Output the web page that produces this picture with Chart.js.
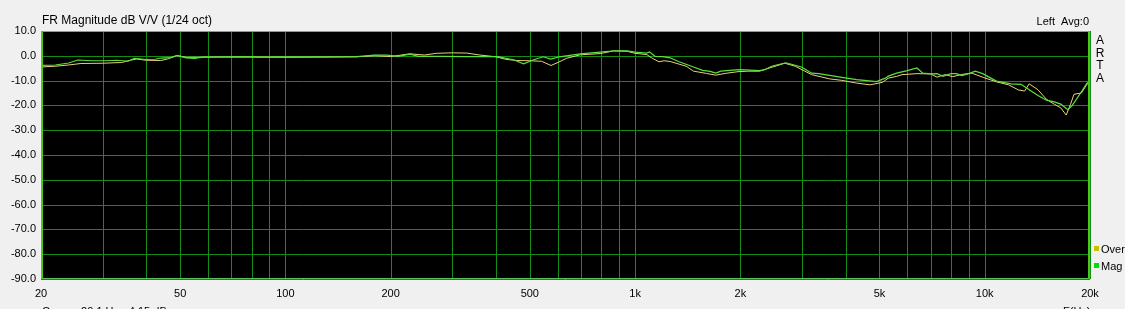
<!DOCTYPE html>
<html><head><meta charset="utf-8">
<script src="https://cdn.jsdelivr.net/npm/chart.js@4.4.0/dist/chart.umd.min.js"></script>
<style>html,body{margin:0;padding:0;background:#f0f0f0;overflow:hidden}canvas{display:block}</style>
</head><body>
<canvas id="c" width="1125" height="309"></canvas>
<script>
// ---- data ----
const yTicks = [10, 0, -10, -20, -30, -40, -50, -60, -70, -80, -90];
const xGridFreqs = [20,30,40,50,60,70,80,90,100,200,300,400,500,600,700,800,900,1000,2000,3000,4000,5000,6000,7000,8000,9000,10000,20000];
const xLabelFreqs = [20, 50, 100, 200, 500, 1000, 2000, 5000, 10000, 20000];
const xLabelTexts = ['20', '50', '100', '200', '500', '1k', '2k', '5k', '10k', '20k'];

const magFreq = [
  20,22,24,25.5,28,30.5,33,35.5,37,40,
  42.5,44,47,49,52,55,58,65,75,85,
  95,110,130,160,180,195,210,227,240,280,
  330,370,404,449,480,513,547,573,608,697,
  795,870,950,1000,1080,1100,1140,1200,1260,1330,
  1470,1560,1640,1700,1760,1900,2000,2270,2350,2450,
  2520,2700,2870,3000,3200,3350,3600,3900,4300,4600,
  4900,5200,5300,5600,5800,6000,6400,6650,7000,7300,
  7600,8000,8300,8600,9000,9400,9900,10100,10800,11900,
  12700,13400,14200,15000,15800,16500,17300,17800,18400,18900,
  19600,20000];
const magDb = [
  -3.9,-3.7,-2.9,-1.7,-2.0,-2.0,-1.8,-2.2,-1.0,-1.5,
  -1.4,-0.9,-0.7,0.2,-0.8,-1.0,-0.5,-0.4,-0.3,-0.5,
  -0.4,-0.4,-0.4,-0.3,0.3,0.3,-0.2,0.7,-0.2,-0.2,
  -0.3,-0.3,-0.3,-1.6,-3.2,-1.6,-0.4,-1.3,-0.4,0.8,
  1.5,2.0,2.0,1.5,1.1,1.6,-0.2,-0.3,-0.8,-2.3,
  -4.5,-5.9,-6.3,-7.0,-6.2,-5.8,-5.6,-6.0,-5.6,-4.3,
  -3.8,-2.8,-3.8,-4.6,-7.0,-7.2,-7.9,-8.7,-9.6,-10.0,
  -10.4,-9.0,-8.2,-7.0,-6.5,-6.0,-4.9,-7.0,-7.3,-7.2,
  -8.3,-7.2,-7.2,-8.0,-7.2,-6.2,-7.3,-8.0,-10.2,-11.3,
  -11.5,-13.7,-16.0,-17.9,-18.6,-19.5,-21.7,-20.0,-17.0,-14.5,
  -11.0,-10.3];

const overFreq = [
  20,22,24,26,30,34,36,37.5,40,44,
  46,49,52,56,65,80,100,130,160,180,
  200,227,250,270,300,330,360,400,430,460,
  500,540,575,610,637,697,795,870,950,1000,
  1080,1120,1170,1210,1260,1400,1470,1600,1700,1830,
  1970,2100,2270,2450,2680,2870,3200,3600,3900,4300,
  4700,5100,5300,5600,5800,6400,7000,7300,7700,8100,
  8600,9200,9900,10800,11700,12500,13000,13400,14200,15000,
  15800,16500,17100,17600,18000,18900,19600,20000];
const overDb = [
  -4.5,-4.2,-3.7,-3.1,-3.0,-2.7,-1.8,-1.3,-1.8,-1.9,
  -1.3,0.1,-0.6,-0.6,-0.5,-0.5,-0.6,-0.5,-0.4,0.0,
  -0.3,0.8,0.3,1.0,1.2,1.1,0.3,-0.4,-1.5,-1.9,
  -2.0,-2.2,-3.9,-2.3,-1.0,0.4,0.9,2.0,1.8,1.0,
  0.5,-1.0,-2.4,-2.0,-2.3,-4.2,-6.2,-7.1,-7.8,-7.0,
  -6.4,-6.2,-6.2,-4.7,-3.0,-4.2,-7.6,-9.3,-9.9,-11.0,
  -11.7,-10.7,-9.0,-8.3,-7.6,-7.2,-7.3,-8.6,-7.6,-8.4,
  -7.5,-7.0,-8.7,-10.5,-11.7,-13.8,-14.2,-11.3,-13.7,-17.5,
  -19.5,-21.0,-23.9,-19.5,-15.5,-15.0,-11.5,-10.5];

// ---- styles ----
const FONT = "'Liberation Sans', Arial, sans-serif";
const GRID = '#138c13';
const MAG_COLOR = '#5ce03a';
const OVER_COLOR = '#e6d27a';

const framePlugin = {
  id: 'frame',
  beforeDraw(chart) {
    const { ctx, chartArea: a } = chart;
    ctx.save();
    ctx.fillStyle = '#000';
    ctx.fillRect(a.left, a.top, a.right - a.left, a.bottom - a.top);
    ctx.restore();
  },
  beforeDatasetsDraw(chart) {
    const { ctx, chartArea: a, scales } = chart;
    ctx.save();
    ctx.strokeStyle = GRID;
    ctx.lineWidth = 1;
    ctx.beginPath();
    xGridFreqs.forEach(f => {
      const px = Math.round(scales.x.getPixelForValue(f)) + 0.5;
      ctx.moveTo(px, a.top); ctx.lineTo(px, a.bottom);
    });
    yTicks.forEach(v => {
      const py = Math.round(scales.y.getPixelForValue(v)) + 0.5;
      ctx.moveTo(a.left, py); ctx.lineTo(a.right, py);
    });
    ctx.stroke();
    ctx.restore();
  },
  afterDraw(chart) {
    const { ctx, chartArea: a } = chart;
    ctx.save();
    ctx.strokeStyle = '#58c058';
    ctx.lineWidth = 1;
    ctx.strokeRect(a.left + 0.5, a.top + 0.5, a.right - a.left - 1, a.bottom - a.top - 1);
    ctx.strokeStyle = '#4cc81c';
    ctx.lineWidth = 2;
    ctx.beginPath(); ctx.moveTo(a.left + 1, a.top); ctx.lineTo(a.left + 1, a.bottom); ctx.stroke();
    ctx.beginPath(); ctx.moveTo(a.right - 1, a.top); ctx.lineTo(a.right - 1, a.bottom); ctx.stroke();

    ctx.fillStyle = '#000';
    ctx.textBaseline = 'alphabetic';
    ctx.font = '12px ' + FONT;
    ctx.textAlign = 'left';
    ctx.fillText('FR Magnitude dB V/V (1/24 oct)', 42, 24);
    ctx.font = '11px ' + FONT;
    ctx.textAlign = 'right';
    ctx.fillText('Left  Avg:0', 1089, 25);
    ctx.textAlign = 'center';
    ctx.font = '12px ' + FONT;
    ['A', 'R', 'T', 'A'].forEach((ch, i) => ctx.fillText(ch, 1100, 44 + i * 12.5));

    // legend
    ctx.font = '11px ' + FONT;
    ctx.textAlign = 'left';
    ctx.fillStyle = '#c8c000';
    ctx.fillRect(1094, 246, 5, 5);
    ctx.fillStyle = '#00e000';
    ctx.fillRect(1094, 263, 5, 5);
    ctx.fillStyle = '#000';
    ctx.fillText('Over', 1101, 253);
    ctx.fillText('Mag', 1101, 270);

    // cursor line (clipped by bottom edge)
    ctx.fillText('Cursor: 20.1 Hz, -4.15 dB', 42, 315);
    ctx.fillText('F(Hz)', 1063, 315);
    ctx.restore();
  }
};

new Chart(document.getElementById('c'), {
  type: 'line',
  data: {
    datasets: [
      { label: 'Mag', data: magFreq.map((f, i) => ({ x: f, y: magDb[i] })),
        borderColor: MAG_COLOR, borderWidth: 1.2, pointRadius: 0, tension: 0, order: 0 },
      { label: 'Over', data: overFreq.map((f, i) => ({ x: f, y: overDb[i] })),
        borderColor: OVER_COLOR, borderWidth: 1, pointRadius: 0, tension: 0, order: 1 }
    ]
  },
  options: {
    responsive: false,
    animation: false,
    devicePixelRatio: 1,
    layout: { padding: { top: 31, right: 35, left: 0, bottom: 0 } },
    plugins: { legend: { display: false }, tooltip: { enabled: false } },
    scales: {
      x: {
        type: 'logarithmic', min: 20, max: 20000,
        afterBuildTicks: s => { s.ticks = xGridFreqs.map(v => ({ value: v })); },
        afterFit: s => { s.height = 30; },
        ticks: {
          autoSkip: false, maxRotation: 0, padding: 8, color: '#000',
          font: { family: FONT, size: 11 },
          callback: v => { const i = xLabelFreqs.indexOf(v); return i >= 0 ? xLabelTexts[i] : ''; }
        },
        grid: { display: false, drawTicks: false },
        border: { display: false }
      },
      y: {
        min: -90, max: 10,
        afterBuildTicks: s => { s.ticks = yTicks.map(v => ({ value: v })); },
        afterFit: s => { s.width = 41; },
        ticks: {
          padding: 5, color: '#000', font: { family: FONT, size: 11 },
          callback: v => Number(v).toFixed(1)
        },
        grid: { display: false, drawTicks: false },
        border: { display: false }
      }
    }
  },
  plugins: [framePlugin]
});
</script>
</body></html>
